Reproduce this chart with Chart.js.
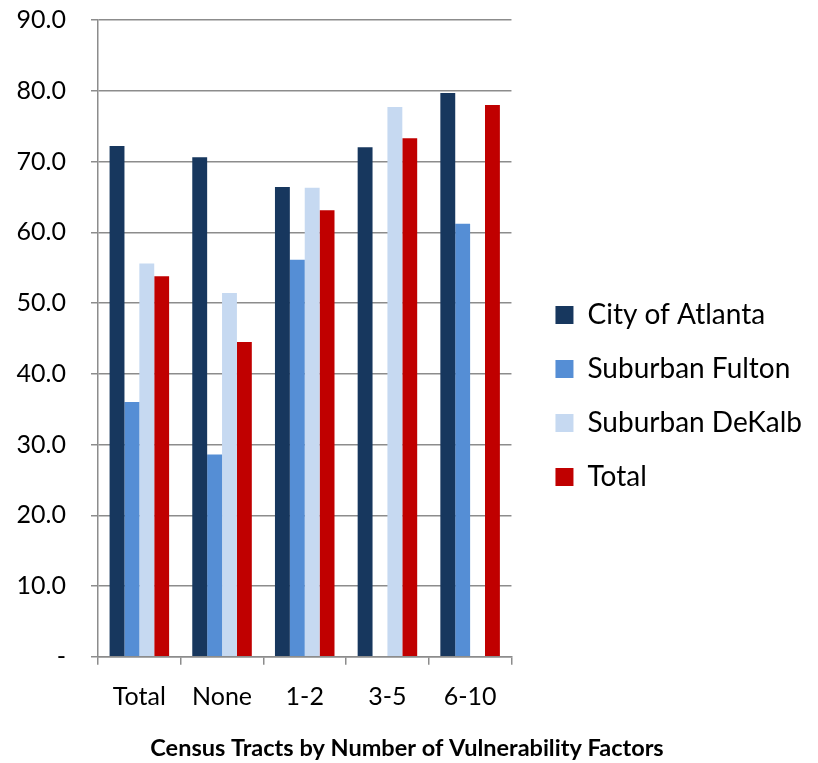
<!DOCTYPE html>
<html>
<head>
<meta charset="utf-8">
<script src="https://cdn.jsdelivr.net/npm/chart.js@4/dist/chart.umd.min.js"></script>
<style>
    html, body { margin: 0; padding: 0; background: #fff; }
    #wrap { width: 818px; height: 763px; }
</style>
</head>
<body>
<div id="wrap"><canvas id="barChart"></canvas></div>
<script>
const categories = ['Total', 'None', '1-2', '3-5', '6-10'];
const atlanta = [72.2, 70.6, 66.4, 72.0, 79.7];
const fulton = [36.0, 28.6, 56.1, null, 61.2];
const dekalb = [55.6, 51.4, 66.3, 77.7, null];
const total = [53.8, 44.5, 63.1, 73.3, 78.0];

const fontFamily = 'Lato, "Open Sans", sans-serif';

const data = {
    labels: categories,
    datasets: [
        { label: 'City of Atlanta', data: atlanta, backgroundColor: '#17375e' },
        { label: 'Suburban Fulton', data: fulton, backgroundColor: '#558ed5' },
        { label: 'Suburban DeKalb', data: dekalb, backgroundColor: '#c6d9f1' },
        { label: 'Total', data: total, backgroundColor: '#c00000' }
    ]
};

const config = {
    type: 'bar',
    data: data,
    options: {
        responsive: true,
        maintainAspectRatio: false,
        animation: false,
        datasets: {
            bar: {
                categoryPercentage: 0.72,
                barPercentage: 1.0,
                borderWidth: 0
            }
        },
        layout: {
            autoPadding: false,
            padding: { top: 20, right: 6, bottom: 0, left: 2 }
        },
        plugins: {
            legend: {
                position: 'right',
                maxWidth: 360,
                // blank title only pushes the items down a little
                title: { display: true, text: ' ', padding: 0, font: { size: 7.5 } },
                labels: {
                    boxWidth: 18,
                    boxHeight: 18,
                    padding: 26,
                    color: '#000',
                    font: { family: fontFamily, size: 28 }
                }
            },
            title: {
                display: true,
                position: 'bottom',
                text: 'Census Tracts by Number of Vulnerability Factors',
                color: '#000',
                padding: { top: 23, bottom: 0 },
                font: { family: fontFamily, size: 23.5, weight: 'bold' }
            },
            tooltip: { enabled: false }
        },
        scales: {
            x: {
                grid: {
                    display: true,
                    drawOnChartArea: false,
                    drawTicks: true,
                    tickLength: 8,
                    color: '#8c8c8c',
                    lineWidth: 1.5
                },
                border: { color: '#8c8c8c', width: 1.5 },
                ticks: {
                    color: '#000',
                    padding: 17,
                    font: { family: fontFamily, size: 25 }
                },
                afterFit: (scale) => { scale.height = 55; }
            },
            y: {
                min: 0,
                max: 90,
                grid: {
                    color: '#8c8c8c',
                    lineWidth: 1.5,
                    tickLength: 7
                },
                border: { color: '#8c8c8c', width: 1.5 },
                ticks: {
                    stepSize: 10,
                    color: '#000',
                    padding: 25,
                    font: { family: fontFamily, size: 25 },
                    callback: (value) => value === 0 ? '-' : value.toFixed(1)
                },
                afterFit: (scale) => {
                    scale.width = 96;
                    scale.paddingTop = 0;
                    scale.paddingBottom = 0;
                }
            },
            // empty axis that only keeps a gap between the plot and the legend
            gap: {
                type: 'linear',
                position: 'right',
                grid: { display: false },
                border: { display: false },
                ticks: { display: false },
                afterFit: (scale) => { scale.width = 18; }
            }
        }
    }
};

window.onload = function () {
    const ctx = document.getElementById('barChart').getContext('2d');
    new Chart(ctx, config);
}
</script>
</body>
</html>
